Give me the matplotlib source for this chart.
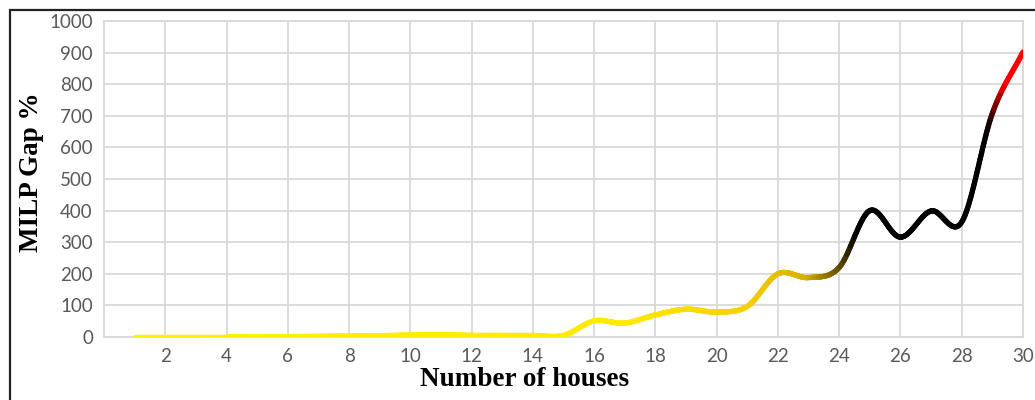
import matplotlib.pyplot as plt
import numpy as np
from matplotlib.collections import LineCollection
from matplotlib.colors import LinearSegmentedColormap
from matplotlib.patches import Rectangle

# data
houses = list(range(1, 31))
gap = [0, 0, 0, 0, 0, 1, 2, 3, 4, 6,
       7, 5, 5, 5, 5, 51, 44, 70, 88, 79,
       97, 200, 188, 220, 400, 316, 399, 364, 708, 902]
x_ticks = list(range(2, 31, 2))
y_ticks = list(range(0, 1001, 100))


def smooth(xs, ys, n=40):
    # catmull-rom through the points (same look as a smoothed office line)
    xs = np.asarray(xs, float)
    ys = np.asarray(ys, float)
    px = np.concatenate([[2 * xs[0] - xs[1]], xs, [2 * xs[-1] - xs[-2]]])
    py = np.concatenate([[2 * ys[0] - ys[1]], ys, [2 * ys[-1] - ys[-2]]])
    ox, oy = [], []
    t = np.linspace(0, 1, n, endpoint=False)
    for i in range(1, len(px) - 2):
        for p, out in ((px, ox), (py, oy)):
            p0, p1, p2, p3 = p[i - 1], p[i], p[i + 1], p[i + 2]
            out.extend(0.5 * (2 * p1 + (-p0 + p2) * t
                              + (2 * p0 - 5 * p1 + 4 * p2 - p3) * t ** 2
                              + (-p0 + 3 * p1 - 3 * p2 + p3) * t ** 3))
    ox.append(xs[-1])
    oy.append(ys[-1])
    return np.array(ox), np.array(oy)


fig = plt.figure(figsize=(10.35, 4.0), dpi=100)
ax = fig.add_axes([104 / 1035, 1 - 337 / 400, (1023 - 104) / 1035, (337 - 21) / 400])

sx, sy = smooth(houses, gap)
pts = np.column_stack([sx, sy]).reshape(-1, 1, 2)
segs = np.concatenate([pts[:-1], pts[1:]], axis=1)

# colour runs along the x direction: yellow -> gold -> black -> red
cmap = LinearSegmentedColormap.from_list("gap", [
    (0.0, "#FFF200"),
    (17 / 30, "#FFEA00"),
    (21 / 30, "#F7D000"),
    (23 / 30, "#D8AE00"),
    (24 / 30, "#6E5600"),
    (24.6 / 30, "#000000"),
    (28.9 / 30, "#000000"),
    (29.5 / 30, "#FF0000"),
    (1.0, "#FF0000"),
])
mid = (sx[:-1] + sx[1:]) / 2
lc = LineCollection(segs, colors=cmap(mid / 30), linewidths=3.8, capstyle="round", zorder=3)
ax.add_collection(lc)

ax.set_xlim(0, 30)
ax.set_ylim(0, 1000)
ax.set_xticks(x_ticks)
ax.set_yticks(y_ticks)
ax.grid(True, color="#D9D9D9", linewidth=1.3)
ax.set_axisbelow(True)
for s in ax.spines.values():
    s.set_color("#D9D9D9")
    s.set_linewidth(1.3)
ax.tick_params(length=0, labelsize=13.5, labelcolor="#595959", pad=8)
for lab in ax.get_xticklabels() + ax.get_yticklabels():
    lab.set_family("Lato")

ax.set_xlabel("Number of houses", family="Liberation Serif", fontweight="bold",
              fontsize=19.5, va="center")
ax.xaxis.set_label_coords((525 - 104) / 919, (337 - 380) / 316)
ax.set_ylabel("MILP Gap %", family="Liberation Serif", fontweight="bold",
              fontsize=19.5, va="center")
ax.yaxis.set_label_coords((32 - 104) / 919, (337 - 172) / 316)

# outer frame of the figure
fig.patches.append(Rectangle((10 / 1035, -0.1), 1.2, 1 - 10 / 400 + 0.1,
                             transform=fig.transFigure, fill=False,
                             edgecolor="#222222", linewidth=1.6))

fig.savefig("out.png", dpi=100)
